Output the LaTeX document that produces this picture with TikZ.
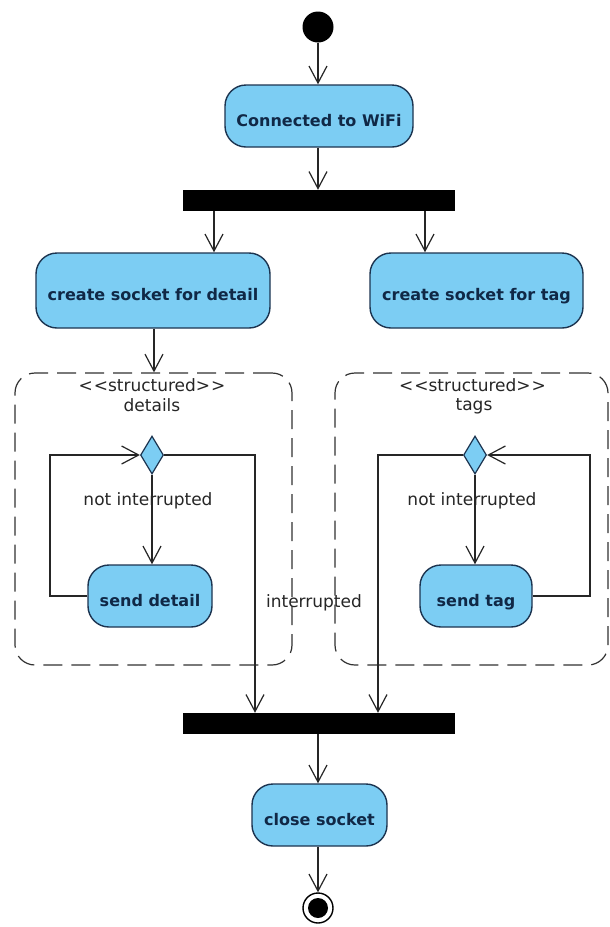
\documentclass[tikz,border=0pt]{standalone}
\usepackage{fontspec}
\setmainfont{DejaVu Sans}
\usetikzlibrary{arrows.meta,shapes.geometric,calc}

\definecolor{actfill}{RGB}{124,205,243}
\definecolor{actline}{RGB}{28,52,80}
\definecolor{acttext}{RGB}{16,40,70}
\definecolor{regionline}{RGB}{50,50,50}

\tikzset{
  action/.style={draw=actline, line width=1.4pt, fill=actfill, rectangle,
    rounded corners=21pt, text=acttext, inner sep=0pt,
    text height=20pt, text depth=0pt,
    font=\fontsize{16}{19}\selectfont\bfseries},
  bar/.style={fill=black, draw=none, rectangle, inner sep=0pt,
    minimum width=272pt, minimum height=21pt},
  decision/.style={diamond, draw=actline, line width=1.2pt, fill=actfill,
    inner sep=0pt, minimum width=23pt, minimum height=38pt, aspect=0.6},
  region/.style={draw=regionline, line width=1.2pt, dash pattern=on 19pt off 9pt,
    rounded corners=20pt, rectangle, inner sep=0pt},
  note/.style={font=\fontsize{17}{20}\selectfont, text=black!85, inner sep=0pt},
  flow/.style={draw=black!85, line width=1.2pt,
    -{Straight Barb[length=17pt,width=18pt,line width=1.2pt]}},
}

% stereotype brackets, kept apart so they do not merge into guillemets
\newcommand{\stereo}[1]{<\kern1pt<#1>\kern1pt>}

\begin{document}
\begin{tikzpicture}[x=1pt, y=-1pt]
  \useasboundingbox[fill=white] (0,0) rectangle (610,927);

  % start and end
  \node[circle, fill=black, minimum size=31pt, inner sep=0pt] (start) at (318,27) {};
  \node[circle, draw=black, line width=1.4pt, fill=white, minimum size=30pt, inner sep=0pt] (finish) at (318,908) {};
  \node[circle, fill=black, minimum size=20pt, inner sep=0pt] at (finish) {};

  % actions
  \node[action, minimum width=188pt, minimum height=62pt] (wifi) at (319,116) {Connected to WiFi};
  \node[action, minimum width=234pt, minimum height=75pt] (cdetail) at (153,290.5) {create socket for detail};
  \node[action, minimum width=213pt, minimum height=75pt] (ctag) at (476.5,290.5) {create socket for tag};
  \node[action, minimum width=124pt, minimum height=62pt] (sdetail) at (150,596) {send detail};
  \node[action, minimum width=112pt, minimum height=62pt] (stag) at (476,596) {send tag};
  \node[action, minimum width=135pt, minimum height=62pt] (close) at (319.5,815) {close socket};

  % fork and join bars
  \node[bar] (fork) at (319,200.5) {};
  \node[bar] (join) at (319,723.5) {};

  % structured regions
  \node[region, minimum width=277pt, minimum height=292pt] (rdetail) at (153.5,519) {};
  \node[region, minimum width=273pt, minimum height=292pt] (rtag) at (471.5,519) {};
  \node[note] (sdl) at (152,385) {\stereo{structured}};
  \node[note] (dl) at (152,405) {details};
  \node[note] (stl) at (472.5,385) {\stereo{structured}};
  \node[note] (tl) at (474,406) {tags};

  % decisions
  \node[decision] (ddetail) at (152,455) {};
  \node[decision] (dtag) at (475,455) {};

  % helper points
  \coordinate (cdin) at ([xshift=61pt]cdetail.north);
  \coordinate (ctin) at ([xshift=-51.5pt]ctag.north);
  \coordinate (dout) at (255,455);
  \coordinate (tout) at (378,455);
  \coordinate (dloop) at (50,596);
  \coordinate (tloop) at (590,596);

  % main flow
  \draw[flow] (start) -- (start |- wifi.north);
  \draw[flow] (start |- wifi.south) -- (start |- fork.north);
  \draw[flow] (fork.south -| cdin) -- (cdin);
  \draw[flow] (fork.south -| ctin) -- (ctin);
  \draw[flow] ([xshift=1pt]cdetail.south) -- ([xshift=1pt]cdetail.south |- rdetail.north);

  % details loop
  \draw[flow] (ddetail.south) -- (ddetail.south |- sdetail.north)
    node[note, pos=0.29, xshift=-4pt] {not interrupted};
  \draw[flow] (sdetail.west) -- (dloop) |- (ddetail.west);
  \draw[flow] (ddetail.east) -- (dout) -- (dout |- join.north);

  % tags loop
  \draw[flow] (dtag.south) -- (dtag.south |- stag.north)
    node[note, pos=0.29, xshift=-3pt] {not interrupted};
  \draw[flow] (stag.east) -- (tloop) |- (dtag.east);
  \draw[flow] (dtag.west) -- (tout) -- (tout |- join.north);

  \node[note] (intr) at (314,603) {interrupted};

  % closing
  \draw[flow] (start |- join.south) -- (start |- close.north);
  \draw[flow] (start |- close.south) -- (finish.north);
\end{tikzpicture}
\end{document}
